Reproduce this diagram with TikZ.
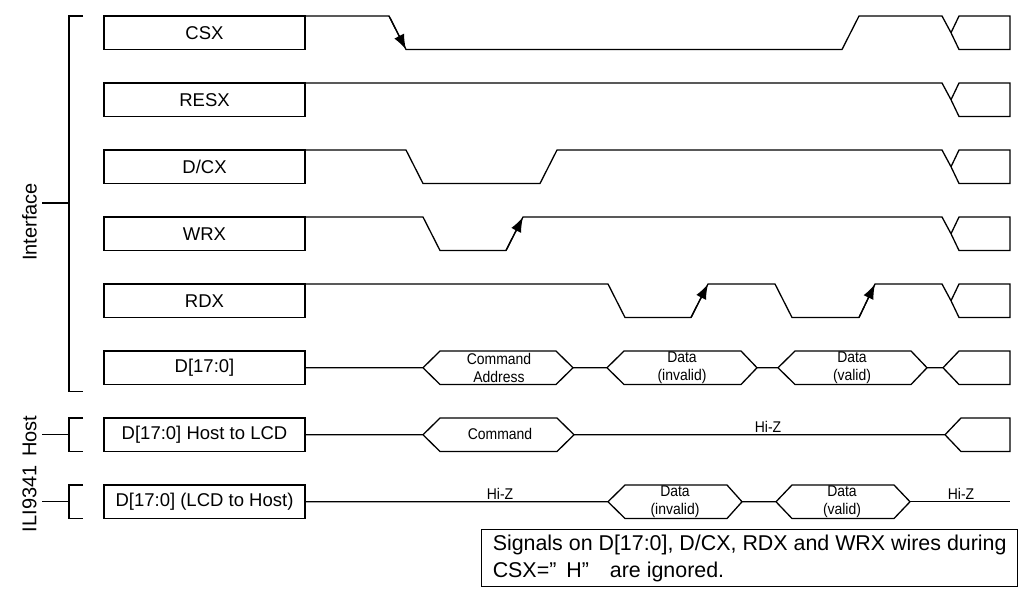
\documentclass[tikz,border=0pt]{standalone}
\usepackage{fontspec}
\setmainfont{Liberation Sans}
\newfontfamily\narrowfont{Liberation Sans}[FakeStretch=0.9]
\usetikzlibrary{arrows.meta, positioning}

\tikzset{
    sigbox/.style={draw, minimum width=201pt, minimum height=33.5pt, inner sep=0pt, outer sep=0pt, font=\fontsize{18.5}{22}\selectfont},
    buslabel/.style={font=\narrowfont\fontsize{15.5}{18}\selectfont, align=center, inner sep=0pt},
    sidelabel/.style={rotate=90, inner sep=0pt, font=\fontsize{20}{24}\selectfont},
    edgearrow/.style={-{Latex[length=15pt,width=11pt]}}
}

\begin{document}
\begin{tikzpicture}[x=1pt, y=-1pt, line width=1.3pt]
    \useasboundingbox (0,0) rectangle (1024,592);

    % signal names
    \node (csx) [sigbox] at (204.5,32.75) {CSX};
    \node (resx) [sigbox, below=33.5pt of csx] {RESX};
    \node (dcx) [sigbox, below=33.5pt of resx] {D/CX};
    \node (wrx) [sigbox, below=33.5pt of dcx] {WRX};
    \node (rdx) [sigbox, below=33.5pt of wrx] {RDX};
    \node (dbus) [sigbox, below=33.5pt of rdx] {D[17:0]};
    \node (hostlcd) [sigbox, below=33.5pt of dbus] {D[17:0] Host to LCD};
    \node (lcdhost) [sigbox, below=33.5pt of hostlcd] {D[17:0] (LCD to Host)};

    % groups
    \node (iface) [sidelabel] at (29.5,222) {Interface};
    \node (ili) [sidelabel] at (29.5,474) {ILI9341\hspace{3pt} Host};
    \draw (83,16) -- (69,16) -- (69,391.5) -- (83,391.5);
    \draw (42,203) -- (69,203);
    \draw (83,418) -- (69,418) -- (69,451.5) -- (83,451.5);
    \draw (42,434.75) -- (69,434.75);
    \draw (83,485) -- (69,485) -- (69,518.5) -- (83,518.5);
    \draw (42,501.75) -- (69,501.75);

    % CSX
    \draw (csx.north east) -- (389,16) -- (406,49.5) -- (842,49.5) -- (859,16) -- (942,16) -- (951,32.75)
        -- (959,49.5) -- (1010,49.5) -- (1010,16) -- (959,16) -- (951,32.75);
    \draw [edgearrow] (389,16) -- (406,49.5);

    % RESX
    \draw (resx.north east) -- (942,83) -- (951,99.75) -- (959,116.5) -- (1010,116.5) -- (1010,83) -- (959,83) -- (951,99.75);

    % D/CX
    \draw (dcx.north east) -- (406,150) -- (423,183.5) -- (540,183.5) -- (557,150) -- (942,150) -- (951,166.75)
        -- (959,183.5) -- (1010,183.5) -- (1010,150) -- (959,150) -- (951,166.75);

    % WRX
    \draw (wrx.north east) -- (423,217) -- (440,250.5) -- (506,250.5) -- (523,217) -- (942,217) -- (951,233.75)
        -- (959,250.5) -- (1010,250.5) -- (1010,217) -- (959,217) -- (951,233.75);
    \draw [edgearrow] (506,250.5) -- (523,217);

    % RDX
    \draw (rdx.north east) -- (608,284) -- (625,317.5) -- (691,317.5) -- (708,284) -- (775,284) -- (792,317.5)
        -- (859,317.5) -- (875,284) -- (942,284) -- (951,300.75)
        -- (959,317.5) -- (1010,317.5) -- (1010,284) -- (959,284) -- (951,300.75);
    \draw [edgearrow] (691,317.5) -- (708,284);
    \draw [edgearrow] (859,317.5) -- (875,284);

    % D[17:0]
    \draw (dbus.east) -- (423,367.75) -- (440,351) -- (556,351) -- (573,367.75) -- (556,384.5) -- (440,384.5) -- (423,367.75);
    \draw (573,367.75) -- (607,367.75) -- (624,351) -- (741,351) -- (757,367.75) -- (741,384.5) -- (624,384.5) -- (607,367.75);
    \draw (757,367.75) -- (778,367.75) -- (795,351) -- (911,351) -- (927,367.75) -- (911,384.5) -- (795,384.5) -- (778,367.75);
    \draw (927,367.75) -- (943,367.75) -- (959,351) -- (1010,351) -- (1010,384.5) -- (959,384.5) -- (943,367.75);
    \node (cmdaddr) [buslabel] at (499,367.5) {Command\\Address};
    \node (datainv) [buslabel] at (682,367.5) {Data\\(invalid)};
    \node (dataval) [buslabel] at (852,367.5) {Data\\(valid)};

    % D[17:0] host to LCD
    \draw (hostlcd.east) -- (423,434.75) -- (440,418) -- (557,418) -- (574,434.75) -- (557,451.5) -- (440,451.5) -- (423,434.75);
    \draw (574,434.75) -- (945,434.75) -- (961,418) -- (1010,418) -- (1010,451.5) -- (961,451.5) -- (945,434.75);
    \node (cmd) [buslabel] at (500,434) {Command};
    \node (hizhost) [buslabel] at (768,427) {Hi-Z};

    % D[17:0] LCD to host
    \draw (lcdhost.east) -- (608,501.75) -- (625,485) -- (727,485) -- (742,501.75) -- (727,518.5) -- (625,518.5) -- (608,501.75);
    \draw (742,501.75) -- (776,501.75) -- (792,485) -- (894,485) -- (910,501.75) -- (894,518.5) -- (792,518.5) -- (776,501.75);
    \draw (910,501.75) -- (1010,501.75);
    \node (hizleft) [buslabel] at (500,494) {Hi-Z};
    \node (rdinv) [buslabel] at (675,501.5) {Data\\(invalid)};
    \node (rdval) [buslabel] at (842,501.5) {Data\\(valid)};
    \node (hizright) [buslabel] at (961,494) {Hi-Z};

    % note
    \node (note) [draw, anchor=north west, minimum width=536pt, minimum height=57pt, inner sep=3pt, align=left,
        font=\fontsize{21.4}{27}\selectfont] at (481,529)
        {Signals on D[17:0], D/CX, RDX and WRX wires during\\CSX=”\hspace{10pt}H”\hspace{21pt}are ignored.};
\end{tikzpicture}
\end{document}
